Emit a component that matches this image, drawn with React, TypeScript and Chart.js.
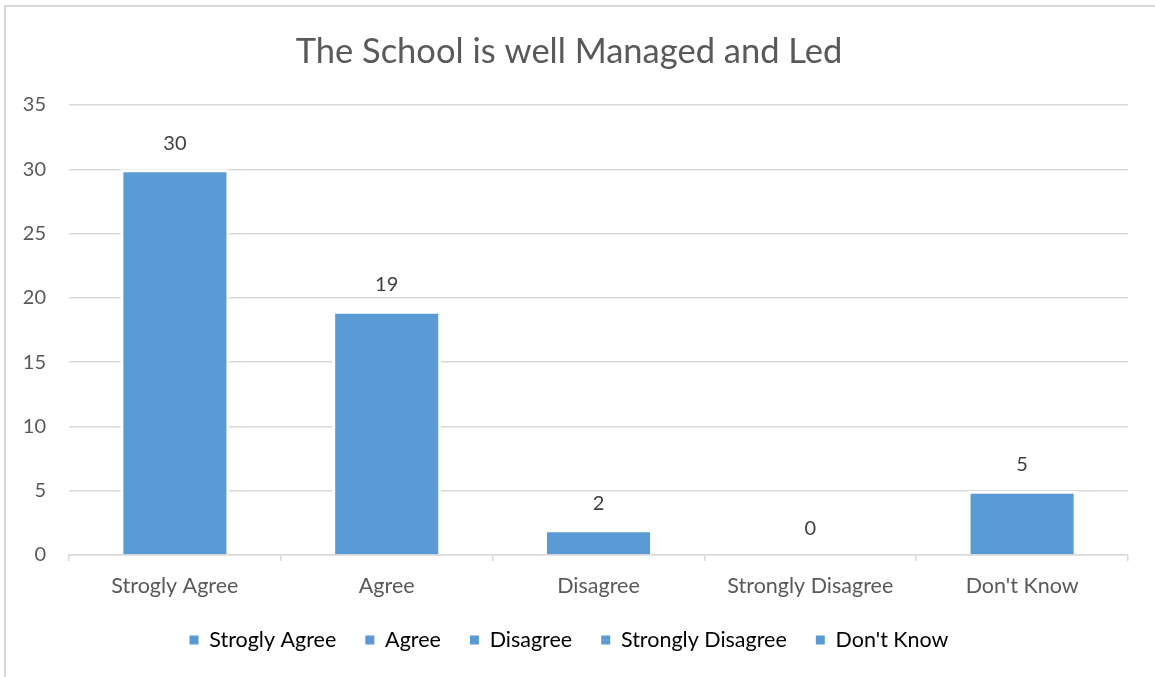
import React, { useEffect, useRef } from "react";
import { Chart, registerables } from "chart.js";

Chart.register(...registerables);

const categories = ["Strogly Agree", "Agree", "Disagree", "Strongly Disagree", "Don't Know"];
const responses = [30, 19, 2, 0, 5];
const yMin = 0;
const yMax = 35;
const yStep = 5;
const chartTitle = "The School is well Managed and Led";

const BAR_COLOR = "#5B9BD5";
const TEXT_COLOR = "#595959";
const LABEL_COLOR = "#404040";
const GRID_COLOR = "#D9D9D9";
const FONT = "Lato, 'Open Sans', sans-serif";

const framePlugin = {
  id: "frame",
  beforeDraw(chart: any) {
    const { ctx, width, height } = chart;
    ctx.save();
    ctx.fillStyle = "#ffffff";
    ctx.fillRect(0, 0, width, height);
    ctx.strokeStyle = GRID_COLOR;
    ctx.lineWidth = 2;
    ctx.beginPath();
    ctx.moveTo(5, height);
    ctx.lineTo(5, 6);
    ctx.lineTo(width, 6);
    ctx.stroke();
    ctx.restore();
  },
};

const valueLabelPlugin = {
  id: "valueLabels",
  afterDatasetsDraw(chart: any) {
    const { ctx } = chart;
    const meta = chart.getDatasetMeta(0);
    const data = chart.data.datasets[0].data;
    ctx.save();
    ctx.font = `20px ${FONT}`;
    ctx.fillStyle = LABEL_COLOR;
    ctx.textAlign = "center";
    ctx.textBaseline = "middle";
    meta.data.forEach((bar: any, i: number) => {
      ctx.fillText(String(data[i]), bar.x, bar.y - 26);
    });
    ctx.restore();
  },
};

export default function App() {
  const canvasRef = useRef<HTMLCanvasElement | null>(null);

  useEffect(() => {
    if (!canvasRef.current) return;
    const chart = new Chart(canvasRef.current, {
      type: "bar",
      data: {
        labels: categories,
        datasets: [
          {
            label: chartTitle,
            data: responses,
            backgroundColor: BAR_COLOR,
            borderColor: "#ffffff",
            borderWidth: 3,
            categoryPercentage: 1,
            barPercentage: 0.515,
          },
        ],
      },
      options: {
        animation: false,
        responsive: false,
        devicePixelRatio: 1,
        layout: { padding: { left: 10, right: 27, top: 0, bottom: 16.25 } },
        plugins: {
          title: {
            display: true,
            text: chartTitle,
            color: TEXT_COLOR,
            font: { family: FONT, size: 34.5, weight: "normal" },
            padding: { top: 31, bottom: 32.6 },
          },
          legend: {
            display: true,
            position: "bottom",
            labels: {
              color: TEXT_COLOR,
              font: { family: FONT, size: 21.5 },
              boxWidth: 9,
              boxHeight: 9,
              padding: 29,
              generateLabels: () =>
                categories.map((c, i) => ({
                  text: c,
                  fillStyle: BAR_COLOR,
                  strokeStyle: BAR_COLOR,
                  lineWidth: 0,
                  hidden: false,
                  index: i,
                  datasetIndex: 0,
                })),
            },
          },
          tooltip: { enabled: false },
        },
        scales: {
          x: {
            offset: true,
            grid: {
              display: true,
              drawOnChartArea: false,
              drawTicks: true,
              tickLength: 6,
              color: GRID_COLOR,
              lineWidth: 1.5,
              offset: true,
            },
            border: { display: true, color: GRID_COLOR, width: 1.5 },
            ticks: {
              color: TEXT_COLOR,
              font: { family: FONT, size: 21.5 },
              padding: 12,
              maxRotation: 0,
            },
            afterFit: (s: any) => {
              s.height = 45.25;
            },
          },
          y: {
            min: yMin,
            max: yMax,
            grid: { color: GRID_COLOR, lineWidth: 1.5, drawTicks: false },
            border: { display: false },
            ticks: {
              stepSize: yStep,
              color: TEXT_COLOR,
              font: { family: FONT, size: 20 },
              padding: 23,
            },
            afterFit: (s: any) => {
              s.width = 59;
            },
          },
        },
      },
      plugins: [framePlugin, valueLabelPlugin],
    });
    return () => chart.destroy();
  }, []);

  return (
    <div style={{ position: "absolute", left: 0, top: 0, width: 1155, height: 677 }}>
      <canvas ref={canvasRef} width={1155} height={677} />
    </div>
  );
}
